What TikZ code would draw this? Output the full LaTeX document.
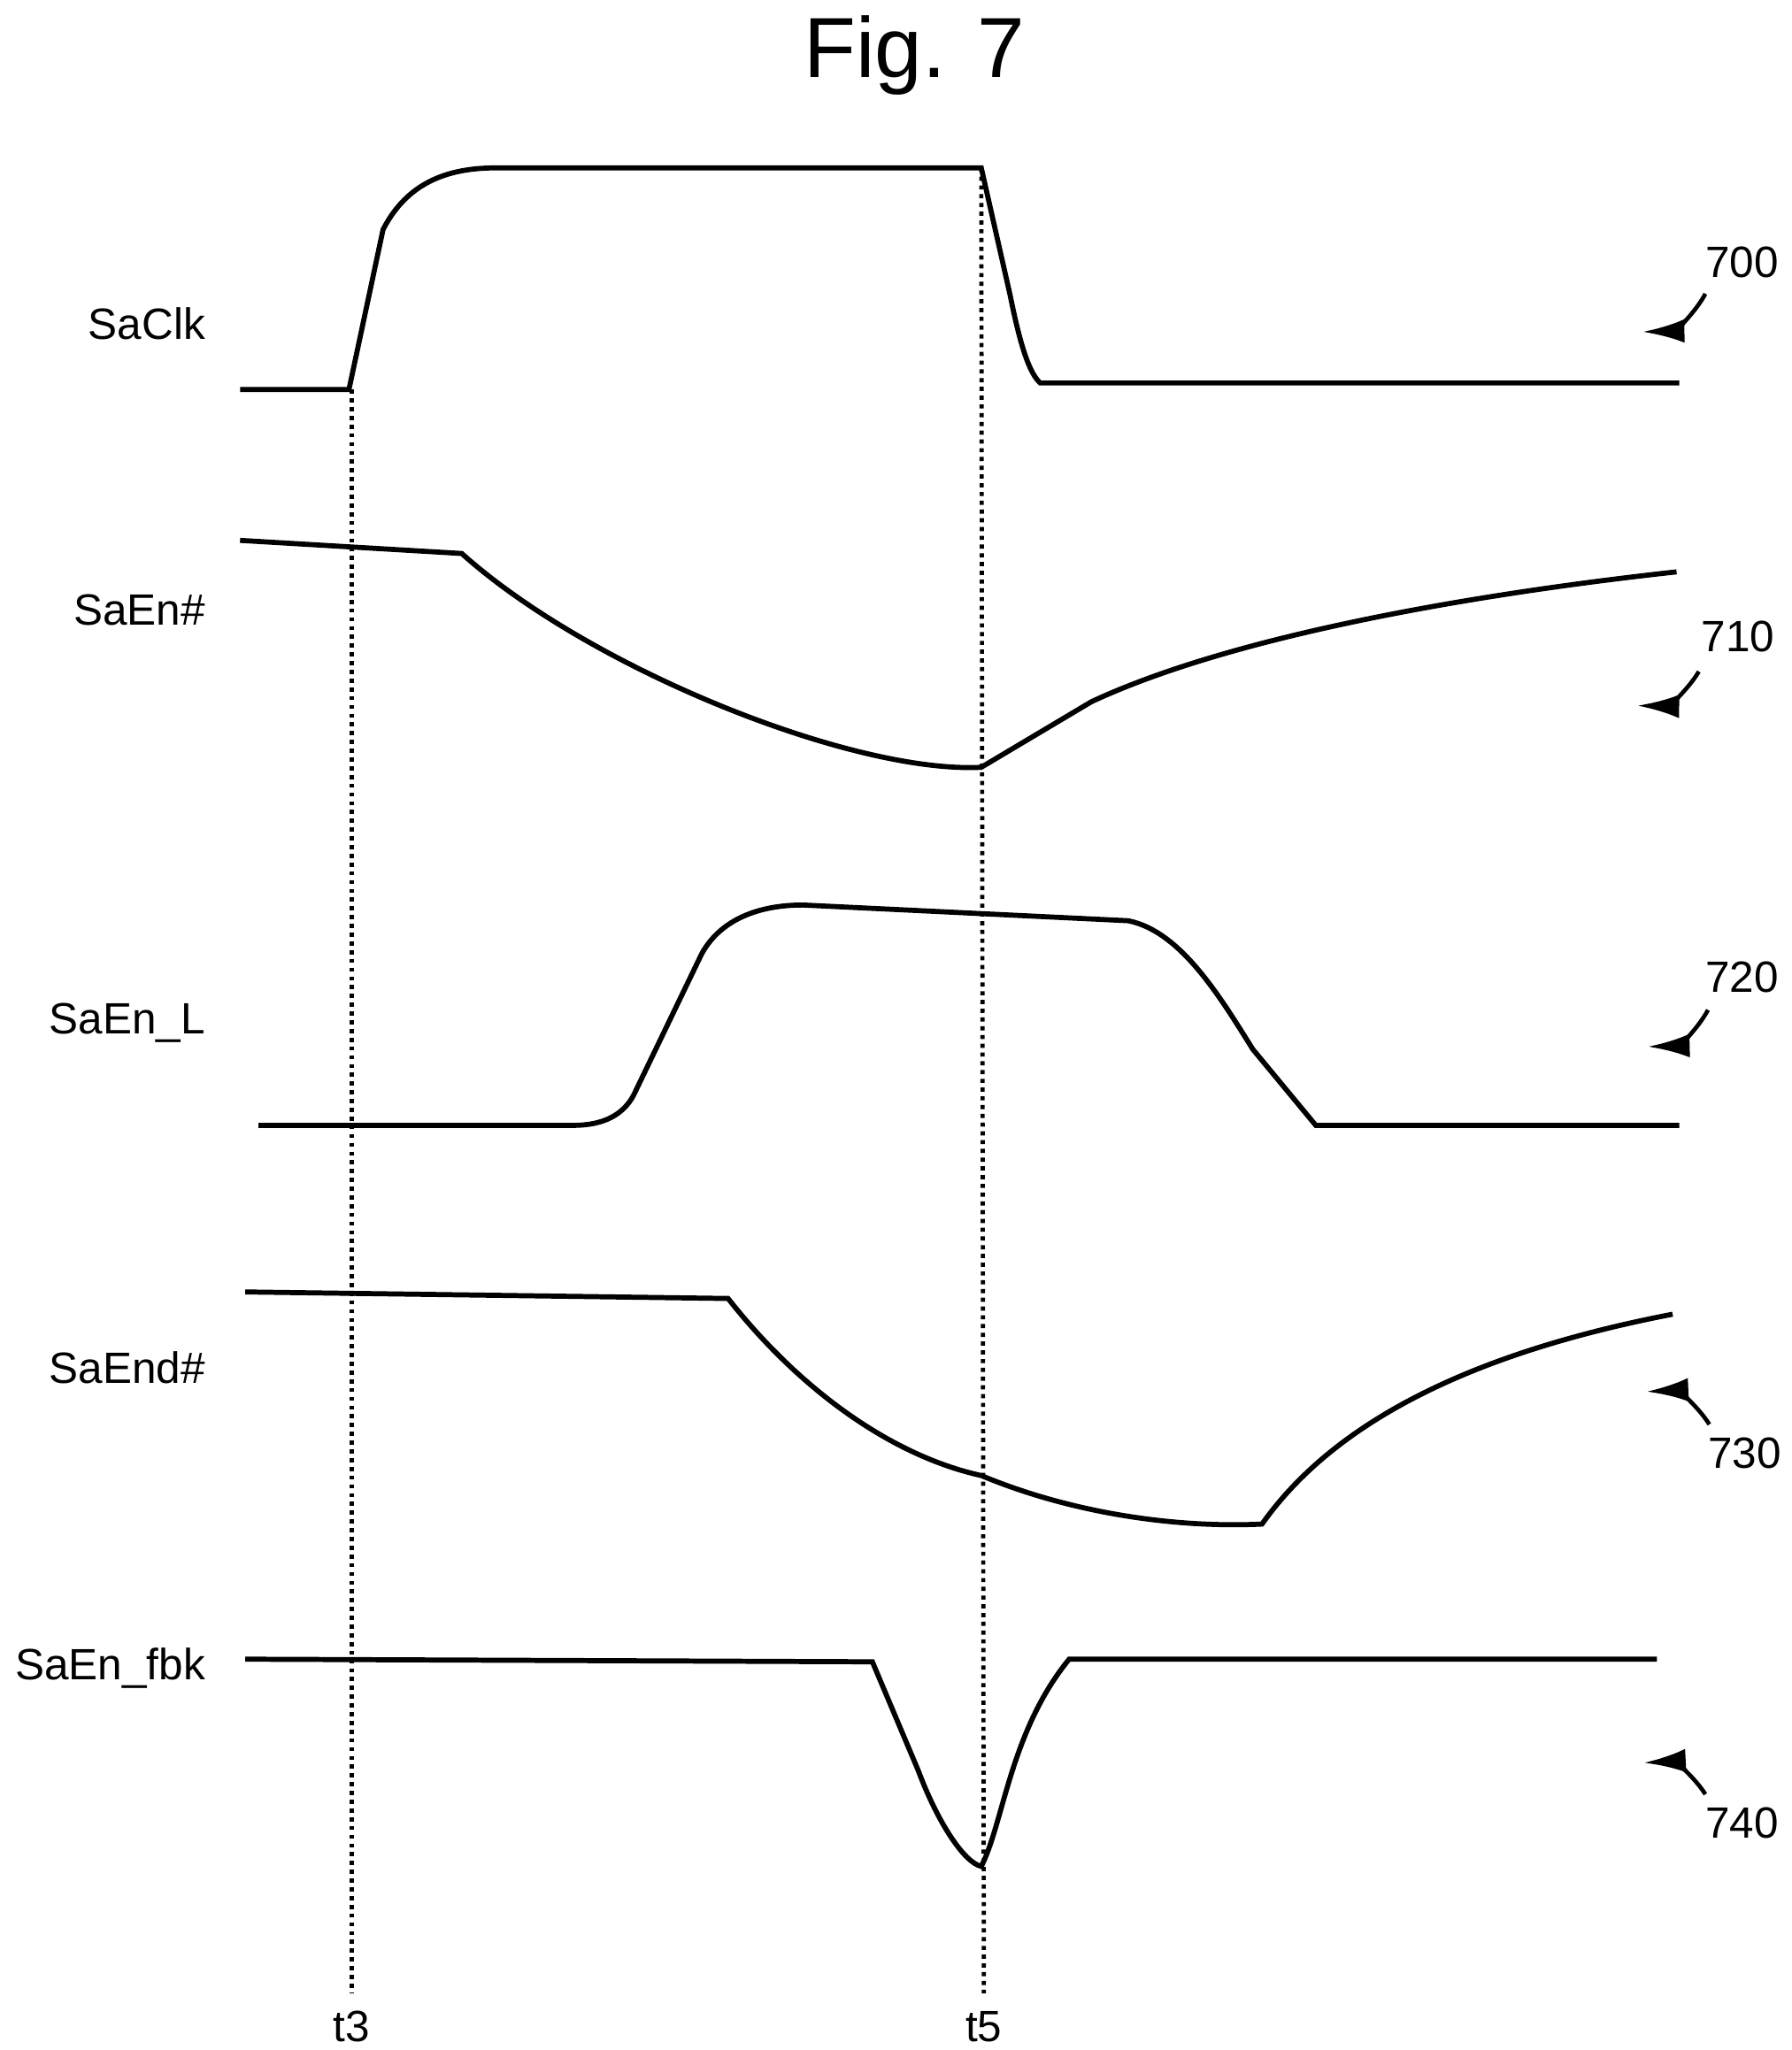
\documentclass[tikz,border=0pt]{standalone}
\usepackage{fontspec}
\setmainfont{Liberation Sans}
\usetikzlibrary{arrows.meta}
\tikzset{>={Latex[width=1.8mm,length=3.2mm]}}
\begin{document}
\begin{tikzpicture}[x=0.1mm, y=-0.1mm, line width=1.1pt,
    sig/.style = {font=\fontsize{9.5}{11}\selectfont, anchor=east},
    refnum/.style = {font=\fontsize{9.5}{11}\selectfont},
    marker/.style = {densely dotted, line width=0.9pt}]
\useasboundingbox (0,0) rectangle (1366,1563);
\node (fig) [font=\fontsize{18.5}{22}\selectfont] at (697,42) {Fig. 7};
% signal names
\node (clk) [sig] at (170,247) {SaClk};
\node (en) [sig] at (170,465) {SaEn\#};
\node (enl) [sig] at (170,780) {SaEn\_L};
\node (end) [sig] at (170,1043) {SaEnd\#};
\node (fbk) [sig] at (170,1272) {SaEn\_fbk};
% waveforms
\draw (183,297) -- (266,297) -- (292,175) .. controls (310,140) and (340,128) .. (378,128)
      -- (748,128) -- (770,225) .. controls (778,265) and (785,285) .. (793,292) -- (1280,292);
\draw (183,412) -- (352,422) .. controls (450,510) and (650,590) .. (748,585)
      -- (832,535) .. controls (950,480) and (1150,450) .. (1278,436);
\draw (197,858) -- (437,858) .. controls (460,858) and (475,850) .. (483,835)
      -- (535,727) .. controls (550,700) and (580,690) .. (612,690)
      -- (860,702) .. controls (900,710) and (930,760) .. (955,800) -- (1003,858) -- (1280,858);
\draw (187,985) -- (555,990) .. controls (610,1060) and (680,1110) .. (748,1125)
      .. controls (820,1155) and (900,1165) .. (962,1162)
      .. controls (1020,1080) and (1130,1030) .. (1275,1002);
\draw (187,1265) -- (665,1267) -- (700,1350) .. controls (715,1390) and (735,1420) .. (748,1423)
      .. controls (765,1390) and (770,1320) .. (815,1265) -- (1263,1265);
% time markers
\node (t3) [refnum] at (268,1545) {t3};
\node (t5) [refnum] at (750,1545) {t5};
\draw[marker] (268,297) -- (t3.north);
\draw[marker] (748,128) -- (t5.north);
% reference numerals
\node (r700) [refnum] at (1328,200) {700};
\node (r710) [refnum] at (1325,485) {710};
\node (r720) [refnum] at (1328,745) {720};
\node (r730) [refnum] at (1330,1108) {730};
\node (r740) [refnum] at (1328,1390) {740};
\coordinate (s700) at (1300,224);
\coordinate (s710) at (1295,512);
\coordinate (s720) at (1302,770);
\coordinate (s730) at (1303,1086);
\coordinate (s740) at (1300,1368);
\coordinate (a700) at (1252,253);
\coordinate (a710) at (1248,538);
\coordinate (a720) at (1256,798);
\coordinate (a730) at (1255,1061);
\coordinate (a740) at (1253,1344);
\draw[->, line width=0.9pt] (s700) to[bend left=30] (a700);
\draw[->, line width=0.9pt] (s710) to[bend left=30] (a710);
\draw[->, line width=0.9pt] (s720) to[bend left=30] (a720);
\draw[->, line width=0.9pt] (s730) to[bend right=30] (a730);
\draw[->, line width=0.9pt] (s740) to[bend right=30] (a740);
\end{tikzpicture}
\end{document}
